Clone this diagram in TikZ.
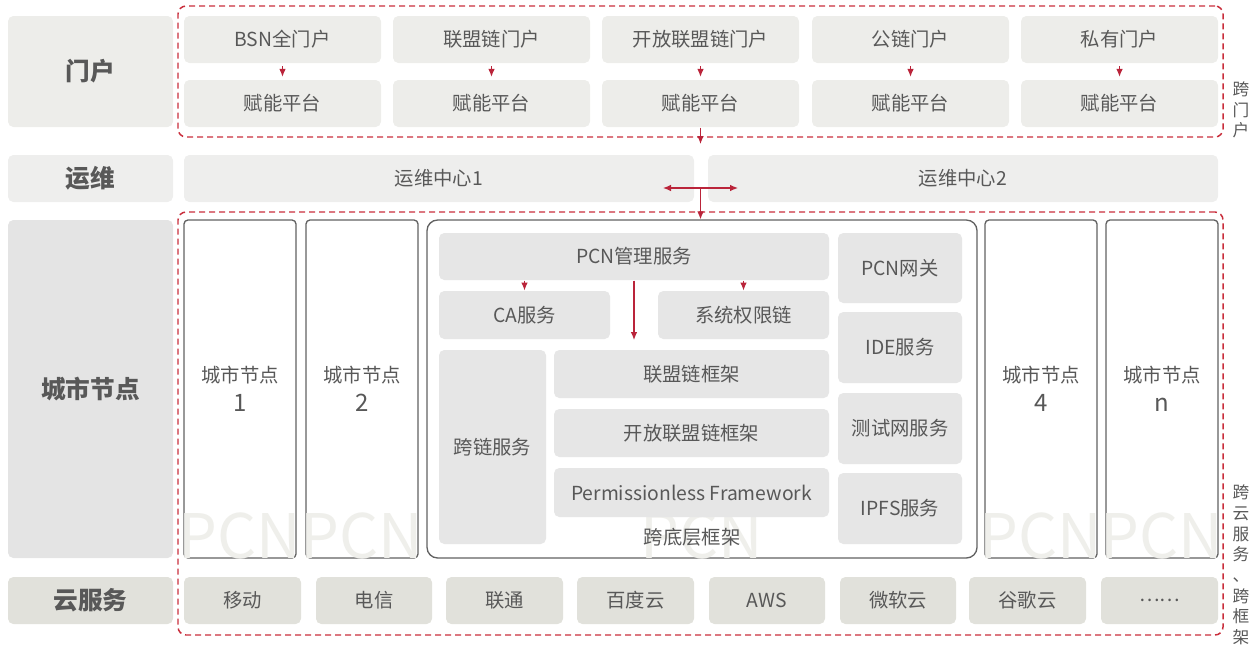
\documentclass[tikz,border=0pt]{standalone}
\usepackage{fontspec}
\setmainfont{Noto Sans CJK SC}
\usetikzlibrary{arrows.meta}

\definecolor{dashred}{RGB}{201,46,60}
\definecolor{arrred}{RGB}{186,36,58}
\definecolor{portfill}{RGB}{237,237,234}
\definecolor{opsfill}{RGB}{238,238,237}
\definecolor{cityfill}{RGB}{228,228,228}
\definecolor{cloudfill}{RGB}{225,225,219}
\definecolor{innerfill}{RGB}{230,230,230}
\definecolor{framegray}{RGB}{98,98,98}
\definecolor{txtgray}{RGB}{88,88,88}
\definecolor{wmgray}{RGB}{239,239,235}

\tikzset{every picture/.style={line width=0.75pt}}
\tikzset{
  sz/.style 2 args={minimum width=#1*0.75pt, minimum height=#2*0.75pt},
  sidelbl/.style={rounded corners=4pt, inner sep=0pt, text=txtgray, font=\fontsize{18.5}{22}\selectfont\bfseries},
  cell/.style={rounded corners=4pt, inner sep=0pt, text=txtgray, align=center, font=\fontsize{14.5}{17}\selectfont},
  citybox/.style={draw=framegray, fill=white, line width=1pt, rounded corners=3pt, inner sep=0pt, text=txtgray, align=center, font=\fontsize{14.5}{21.5}\selectfont},
  dashbox/.style={draw=dashred, line width=1.1pt, dash pattern={on 4.5pt off 3pt}, rounded corners=6pt, inner sep=0pt},
  sidenote/.style={text=txtgray, align=center, inner sep=0pt, font=\fontsize{12.5}{15.5}\selectfont},
  wmark/.style={text=wmgray, inner sep=0pt, anchor=base, font=\fontsize{46}{46}\selectfont},
  arr/.style={draw=arrred, line width=0.9pt, -{Latex[length=6pt,width=5pt]}},
  arrtwo/.style={draw=arrred, line width=0.9pt, {Latex[length=6pt,width=5pt]}-{Latex[length=6pt,width=5pt]}}
}
\newcommand{\citynum}[1]{\fontsize{18}{21.5}\selectfont #1}

\begin{document}
\begin{tikzpicture}[x=0.75pt,y=0.75pt,yscale=-1,xscale=1]
\useasboundingbox (0,0) rectangle (1259,646);

%% ---------------- left column ----------------
\node[sidelbl, fill=portfill, sz={165}{111}] (lportal) at (90.5,71.5) {门户};
\node[sidelbl, fill=opsfill, sz={165}{47}] (lops) at (90.5,178.5) {运维};
\node[sidelbl, fill=cityfill, sz={165}{338}] (lcity) at (90.5,389) {城市节点};
\node[sidelbl, fill=cloudfill, sz={165}{47}] (lcloud) at (90.5,600.5) {云服务};

%% ---------------- cross-portal frame ----------------
\node[dashbox, sz={1045}{131}] (crossportal) at (700.5,71.5) {};
\node[sidenote] (crossportaltxt) at (1241,110) {跨\\门\\户};

\node[cell, fill=portfill, sz={197}{47}] (portala) at (282.5,39.5) {BSN全门户};
\node[cell, fill=portfill, sz={197}{47}] (portalb) at (491.5,39.5) {联盟链门户};
\node[cell, fill=portfill, sz={197}{47}] (portalc) at (700.5,39.5) {开放联盟链门户};
\node[cell, fill=portfill, sz={197}{47}] (portald) at (910.5,39.5) {公链门户};
\node[cell, fill=portfill, sz={197}{47}] (portale) at (1119.5,39.5) {私有门户};

\node[cell, fill=portfill, sz={197}{47}] (enablea) at (282.5,103.5) {赋能平台};
\node[cell, fill=portfill, sz={197}{47}] (enableb) at (491.5,103.5) {赋能平台};
\node[cell, fill=portfill, sz={197}{47}] (enablec) at (700.5,103.5) {赋能平台};
\node[cell, fill=portfill, sz={197}{47}] (enabled) at (910.5,103.5) {赋能平台};
\node[cell, fill=portfill, sz={197}{47}] (enablee) at (1119.5,103.5) {赋能平台};

\draw[arr, shorten <=2pt, shorten >=2pt] (portala) -- (enablea);
\draw[arr, shorten <=2pt, shorten >=2pt] (portalb) -- (enableb);
\draw[arr, shorten <=2pt, shorten >=2pt] (portalc) -- (enablec);
\draw[arr, shorten <=2pt, shorten >=2pt] (portald) -- (enabled);
\draw[arr, shorten <=2pt, shorten >=2pt] (portale) -- (enablee);

%% ---------------- operations ----------------
\node[cell, fill=opsfill, sz={510}{47}] (opsa) at (439,178.5) {运维中心1};
\node[cell, fill=opsfill, sz={510}{47}] (opsb) at (963,178.5) {运维中心2};

\coordinate (opsin) at (700.5,144);
\draw[arr] (enablec) -- (opsin);

%% ---------------- cross-cloud frame ----------------
\node[dashbox, sz={1045}{423}] (crosscloud) at (700.5,423.5) {};
\node[sidenote] (crosscloudtxt) at (1241,565) {跨\\云\\服\\务\\、\\跨\\框\\架};

%% ---------------- city nodes ----------------
\node[citybox, sz={112}{338}] (citya) at (240,389) {城市节点\\\citynum{1}};
\node[citybox, sz={112}{338}] (cityb) at (362,389) {城市节点\\\citynum{2}};
\node[citybox, sz={112}{338}] (cityd) at (1041,389) {城市节点\\\citynum{4}};
\node[citybox, sz={112}{338}] (cityn) at (1162,389) {城市节点\\\citynum{n}};
\node[citybox, rounded corners=8pt, sz={550}{338}] (pcn) at (702,389) {};

\node[wmark] (wma) at (240,558) {PCN};
\node[wmark] (wmb) at (362,558) {PCN};
\node[wmark] (wmc) at (702,558) {PCN};
\node[wmark] (wmd) at (1041,558) {PCN};
\node[wmark] (wmn) at (1162,558) {PCN};

%% ---------------- PCN internals ----------------
\node[cell, fill=innerfill, sz={390}{47}] (mgmt) at (634,256.5) {PCN管理服务};
\node[cell, fill=innerfill, sz={171}{48}] (ca) at (524.5,315) {CA服务};
\node[cell, fill=innerfill, sz={171}{48}] (perm) at (743.5,315) {系统权限链};
\node[cell, fill=innerfill, sz={107}{194}] (xchain) at (492.5,447) {跨链服务};
\node[cell, fill=innerfill, sz={275}{48}] (fwcons) at (691.5,374) {联盟链框架};
\node[cell, fill=innerfill, sz={275}{48}] (fwopen) at (691.5,433) {开放联盟链框架};
\node[cell, fill=innerfill, sz={275}{49}] (fwless) at (691.5,492.5) {Permissionless Framework};
\node[cell] (xbase) at (692,537) {跨底层框架};

\node[cell, fill=innerfill, sz={124}{70}] (gateway) at (900,268) {PCN网关};
\node[cell, fill=innerfill, sz={124}{71}] (ide) at (900,347.5) {IDE服务};
\node[cell, fill=innerfill, sz={124}{71}] (testnet) at (900,428.5) {测试网服务};
\node[cell, fill=innerfill, sz={124}{71}] (ipfs) at (900,508.5) {IPFS服务};

\draw[arr] (mgmt.south -| ca.north) -- (ca.north);
\draw[arr] (mgmt.south -| perm.north) -- (perm.north);
\coordinate (mgmtend) at (634,340);
\draw[arr] (mgmt.south) -- (mgmtend);

%% hub between the two operation centres
\coordinate (hub) at (700.5,188);
\coordinate (hubl) at (663,188);
\coordinate (hubr) at (738,188);
\draw[arrtwo] (hubl) -- (hubr);
\draw[arr] (hub) -- (pcn.north -| hub);

%% ---------------- cloud services ----------------
\node[cell, fill=cloudfill, sz={117}{47}] (cmobile) at (242.5,600.5) {移动};
\node[cell, fill=cloudfill, sz={116}{47}] (ctelecom) at (374,600.5) {电信};
\node[cell, fill=cloudfill, sz={117}{47}] (cunicom) at (504.5,600.5) {联通};
\node[cell, fill=cloudfill, sz={117}{47}] (cbaidu) at (635.5,600.5) {百度云};
\node[cell, fill=cloudfill, sz={116}{47}] (caws) at (767,600.5) {AWS};
\node[cell, fill=cloudfill, sz={116}{47}] (cazure) at (898,600.5) {微软云};
\node[cell, fill=cloudfill, sz={117}{47}] (cgoogle) at (1027.5,600.5) {谷歌云};
\node[cell, fill=cloudfill, sz={117}{47}] (cmore) at (1159.5,600.5) {……};

\end{tikzpicture}
\end{document}
